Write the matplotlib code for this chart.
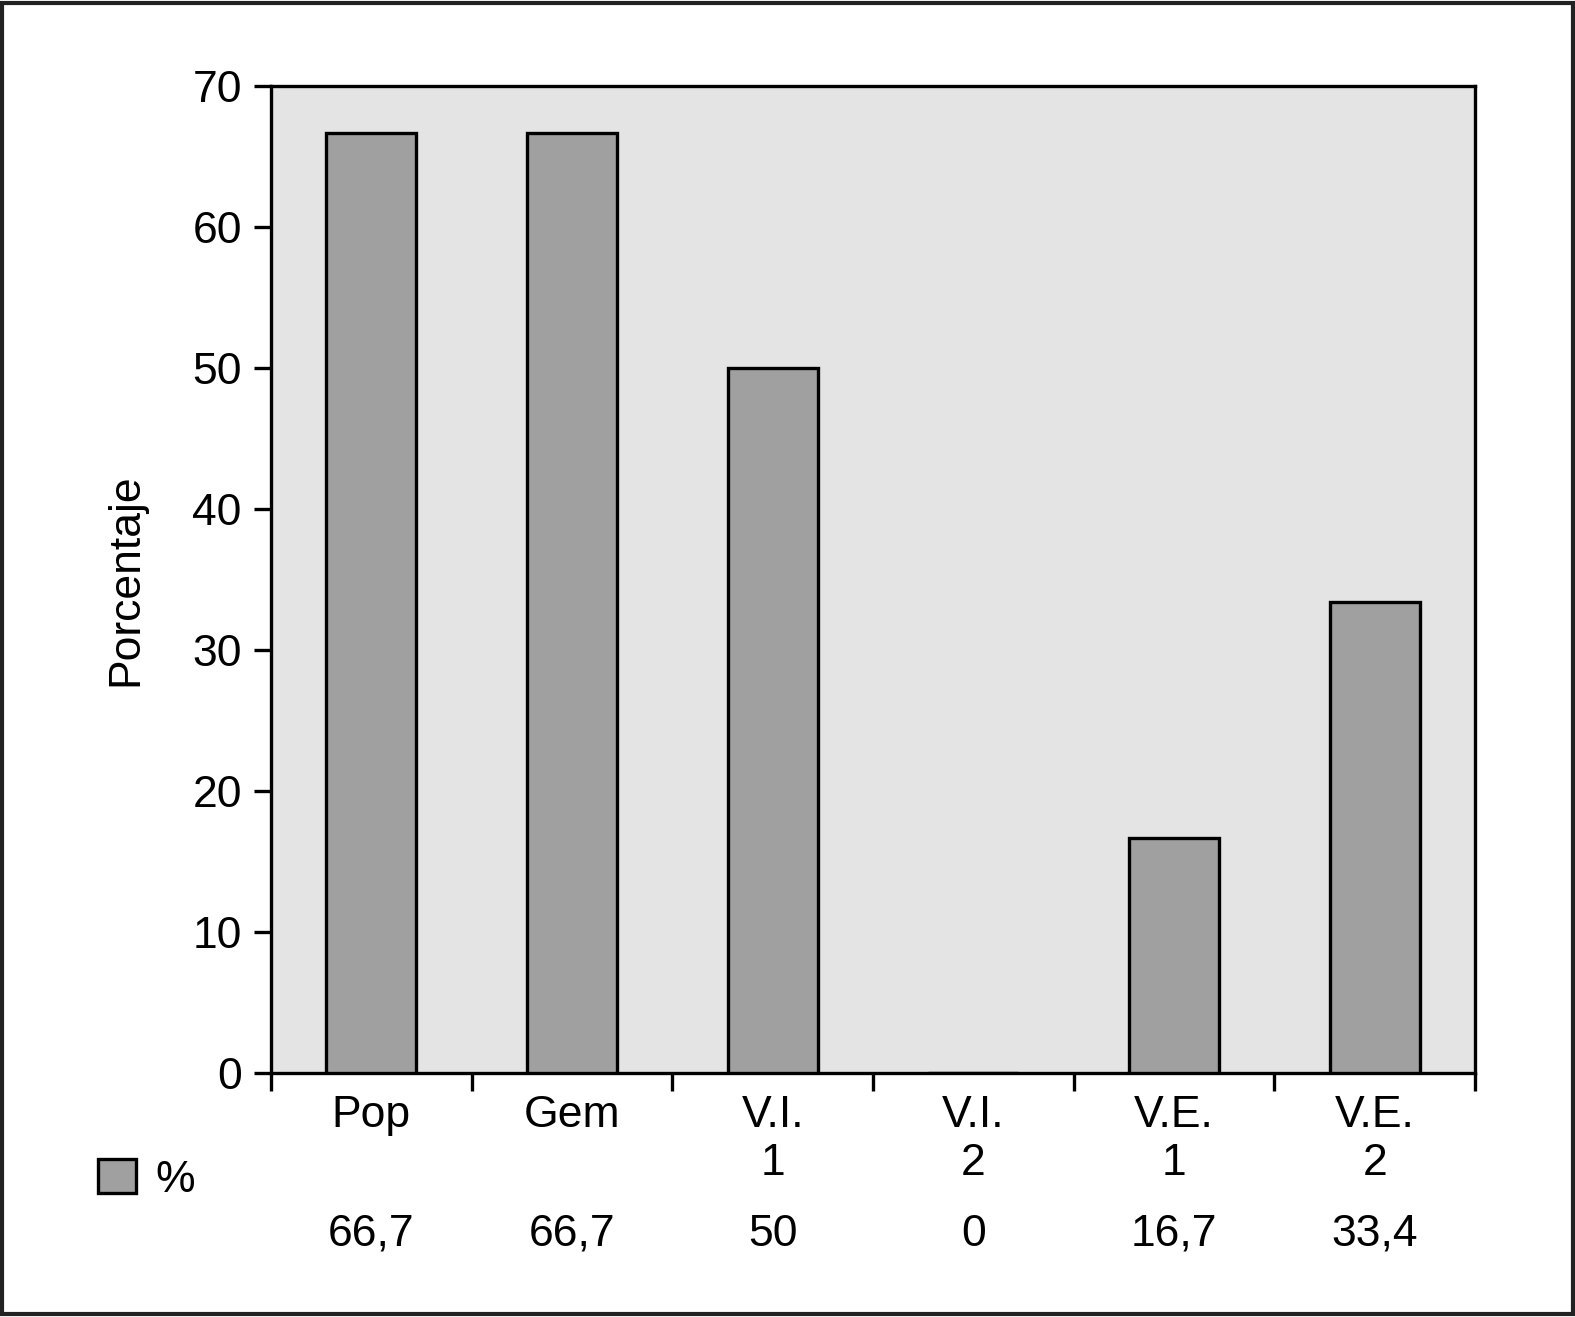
import matplotlib
matplotlib.use("Agg")
from matplotlib import pyplot as plt
from matplotlib.patches import Rectangle
from matplotlib.transforms import blended_transform_factory
import numpy as np

categories = ["Pop", "Gem", "V.I.\n1", "V.I.\n2", "V.E.\n1", "V.E.\n2"]
values = [66.7, 66.7, 50, 0, 16.7, 33.4]
value_labels = ["66,7", "66,7", "50", "0", "16,7", "33,4"]
yticks = [0, 10, 20, 30, 40, 50, 60, 70]

plt.rcParams['font.family'] = ['Liberation Sans', 'DejaVu Sans']

fig = plt.figure(figsize=(15.75, 13.17), dpi=100)
ax = fig.add_axes([271/1575, 1 - 1073/1317, (1475 - 271)/1575, (1073 - 86)/1317])
ax.set_facecolor('#e4e4e4')

x = np.arange(len(categories))
bars = ax.bar(x, values, width=0.45, color='#a0a0a0', edgecolor='black',
              linewidth=2.4, label='%', zorder=3)

ax.set_xlim(-0.5, len(categories) - 0.5)
ax.set_ylim(0, 70)

for side in ['left', 'right', 'top', 'bottom']:
    ax.spines[side].set_linewidth(2.4)

ax.set_yticks(yticks)
ax.tick_params(axis='y', direction='out', length=12, width=2.4, pad=9, labelsize=32)

# boundaries get the tick marks, centres get the labels
ax.set_xticks(np.arange(len(categories) + 1) - 0.5)
ax.set_xticklabels([])
ax.set_xticks(x, minor=True)
ax.set_xticklabels(categories, minor=True, fontsize=32, linespacing=1.2, va='top')
ax.tick_params(axis='x', which='major', direction='out', length=13, width=2.4)
ax.tick_params(axis='x', which='minor', length=0, pad=16)

ax.set_ylabel("Porcentaje", fontsize=32, labelpad=33)

trans = blended_transform_factory(ax.transData, fig.transFigure)
for xi, lab in zip(x, value_labels):
    ax.text(xi, 1 - 1234/1317, lab, transform=trans, ha='center', va='center',
            fontsize=32)

fig.legend(handles=[bars], labels=['%'], loc='center left',
           bbox_to_anchor=(98/1575, 1 - 1180/1317), frameon=False,
           fontsize=32, borderpad=0, borderaxespad=0, handlelength=0.85,
           handleheight=0.8, handletextpad=0.45)

fig.patches.append(Rectangle((0.0015, 0.002), 0.997, 0.996, transform=fig.transFigure,
                             fill=False, edgecolor='#222222', linewidth=3))

fig.savefig("out.png", dpi=100)
